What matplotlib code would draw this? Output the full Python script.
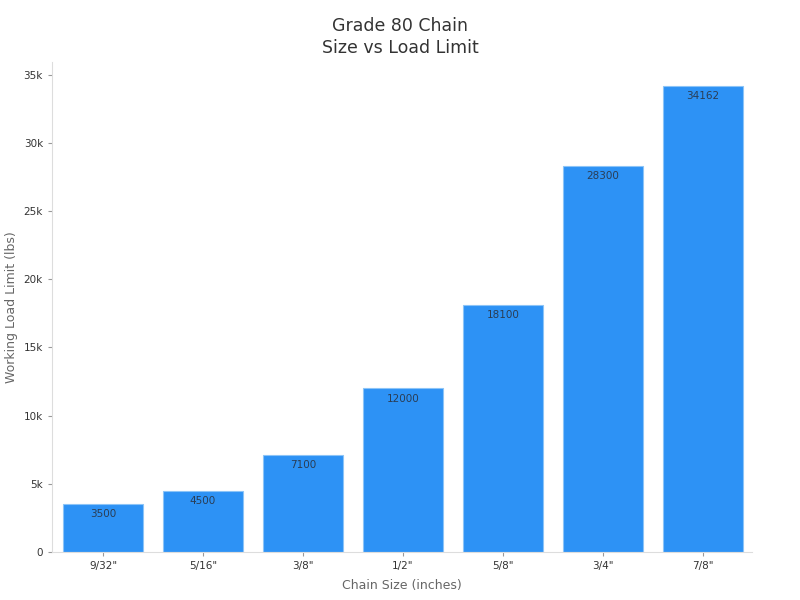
import matplotlib
matplotlib.use("Agg")
import matplotlib.pyplot as plt
from matplotlib.ticker import FuncFormatter

sizes = ['9/32"', '5/16"', '3/8"', '1/2"', '5/8"', '3/4"', '7/8"']
loads = [3500, 4500, 7100, 12000, 18100, 28300, 34162]

fig = plt.figure(figsize=(8, 6), dpi=100)
ax = fig.add_axes([0.065, 0.08, 0.875, 0.817])
x = list(range(len(sizes)))
bars = ax.bar(x, loads, width=0.8, color="#2d92f5", edgecolor="#8cc4f7", linewidth=0.8)
for xi, v in zip(x, loads):
    ax.text(xi, v - 380, str(v), ha="center", va="top", fontsize=7.5, color="#2a3d55")
ax.set_xlim(-0.51, 6.49)
ax.set_ylim(0, 35950)
ax.set_xticks(x)
ax.set_xticklabels(sizes)
ax.set_yticks(range(0, 35001, 5000))
ax.yaxis.set_major_formatter(FuncFormatter(lambda v, p: "0" if v == 0 else f"{int(v/1000)}k"))
ax.tick_params(labelsize=7.5, colors="#333333", length=3)
ax.tick_params(axis="both", color="#999999")
for s in ["top", "right"]:
    ax.spines[s].set_visible(False)
for s in ["left", "bottom"]:
    ax.spines[s].set_color("#dddddd")
ax.set_xlabel("Chain Size (inches)", fontsize=9, color="#666666", labelpad=6)
ax.set_ylabel("Working Load Limit (lbs)", fontsize=9, color="#666666", labelpad=4)
fig.suptitle("Grade 80 Chain\nSize vs Load Limit", fontsize=12.5, color="#333333", y=0.972, linespacing=1.3)
fig.savefig("out.png", dpi=100, facecolor="white")
